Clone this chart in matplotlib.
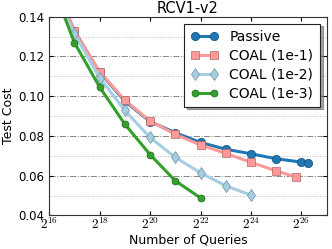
import numpy as np
import matplotlib
matplotlib.use("Agg")
import matplotlib.pyplot as plt
from matplotlib.ticker import MultipleLocator, FixedLocator, NullLocator

plt.rcParams.update({
    "font.family": "DejaVu Sans",
    "mathtext.fontset": "cm",
})

# exponents of 2 (number of queries) and test cost per method
passive_exp = [16, 17, 18, 19, 20, 21, 22, 23, 24, 25, 26, 26.25]
passive_cost = [0.162, 0.133, 0.112, 0.0975, 0.0872, 0.0816, 0.0767, 0.0733, 0.0710, 0.0685, 0.0668, 0.0665]

coal1_exp = [16, 17, 18, 19, 20, 21, 22, 23, 24, 25, 25.8]
coal1_cost = [0.162, 0.1328, 0.1123, 0.098, 0.0875, 0.0808, 0.0754, 0.0712, 0.0667, 0.0624, 0.0592]

coal2_exp = [16, 17, 18, 19, 20, 21, 22, 23, 24]
coal2_cost = [0.157, 0.1314, 0.1093, 0.0928, 0.0792, 0.0692, 0.0614, 0.0549, 0.0502]

coal3_exp = [16, 17, 18, 19, 20, 21, 22]
coal3_cost = [0.160, 0.127, 0.1046, 0.0859, 0.0706, 0.0574, 0.0488]

series = [
    ("Passive", passive_exp, passive_cost, "#1f78b4", "#154f78", "o", 6),
    ("COAL (1e-1)", coal1_exp, coal1_cost, "#fb9a99", "#b56665", "s", 6),
    ("COAL (1e-2)", coal2_exp, coal2_cost, "#a6cee3", "#6f8fa0", "d", 6.5),
    ("COAL (1e-3)", coal3_exp, coal3_cost, "#33a02c", "#1f6a1a", "o", 5),
]

fig = plt.figure(figsize=(3.32, 2.49), dpi=100)
ax = fig.add_axes([0.148, 0.135, 0.836, 0.798])

for label, e, c, col, edge, mk, ms in series:
    x = np.power(2.0, e)
    ax.plot(x, c, color=col, lw=2.2, marker=mk, ms=ms, mfc=col, mec=edge,
            mew=0.5, label=label)

ax.set_xscale("log", base=2)
ax.set_xlim(2**16, 2**27)
ax.set_ylim(0.04, 0.14)
ax.xaxis.set_major_locator(FixedLocator([2.0**k for k in range(16, 27, 2)]))
ax.xaxis.set_major_formatter(plt.FuncFormatter(lambda v, p: r"$2^{%d}$" % round(np.log2(v))))
ax.xaxis.set_minor_locator(NullLocator())
ax.yaxis.set_major_locator(MultipleLocator(0.02))
ax.yaxis.set_minor_locator(MultipleLocator(0.01))
ax.yaxis.set_major_formatter(plt.FuncFormatter(lambda v, p: "%.2f" % v))

ax.grid(True, axis="y", which="major", color="#888888", ls="-.", lw=0.7)
ax.grid(True, axis="y", which="minor", color="#bbbbbb", ls=":", lw=0.7)
ax.tick_params(axis="both", which="both", direction="in", top=True, right=True,
               length=3)
ax.tick_params(axis="y", labelsize=8.5)
ax.tick_params(axis="x", labelsize=9.5, pad=1)
ax.tick_params(axis="y", which="minor", length=0)
for s in ax.spines.values():
    s.set_color("#333333")

ax.set_title("RCV1-v2", fontsize=10.5, pad=3)
ax.set_xlabel("Number of Queries", fontsize=9, labelpad=1)
ax.set_ylabel("Test Cost", fontsize=9, labelpad=2)

leg = ax.legend(loc="upper right", fontsize=10, numpoints=2, fancybox=False,
                shadow=True, handlelength=2.0, borderpad=0.45, labelspacing=0.35,
                borderaxespad=0.5, handletextpad=0.8)
leg.get_frame().set_edgecolor("#222222")
leg.get_frame().set_linewidth(0.8)

fig.savefig("out.png", dpi=100)
